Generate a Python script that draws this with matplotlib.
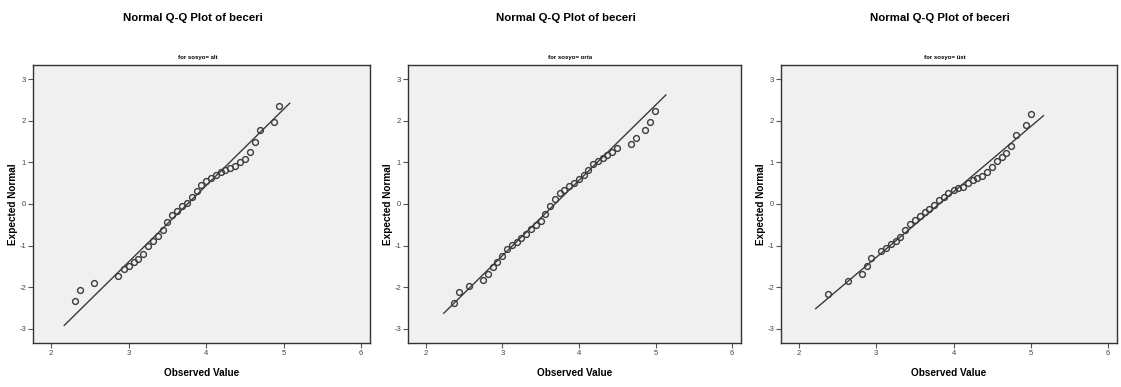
import matplotlib
matplotlib.use("Agg")
import matplotlib.pyplot as plt
from matplotlib import font_manager

# ---- data ----
main_title = "Normal Q-Q Plot of beceri"
groups = ["alt", "orta", "üst"]

obs_alt = [2.31, 2.375, 2.56, 2.87, 2.94, 3.00, 3.065, 3.125, 3.19, 3.25, 3.315, 3.38,
           3.445, 3.50, 3.565, 3.63, 3.69, 3.755, 3.82, 3.88, 3.94, 4.00, 4.065, 4.13,
           4.19, 4.25, 4.315, 4.38, 4.44, 4.505, 4.565, 4.63, 4.69, 4.88, 4.94]
exp_alt = [-2.34, -2.06, -1.90, -1.73, -1.57, -1.50, -1.40, -1.32, -1.20, -1.01, -0.89,
           -0.78, -0.62, -0.43, -0.27, -0.16, -0.05, 0.03, 0.16, 0.32, 0.45, 0.55, 0.62,
           0.69, 0.78, 0.82, 0.86, 0.92, 1.00, 1.09, 1.24, 1.50, 1.78, 1.98, 2.35]

obs_orta = [2.37, 2.435, 2.56, 2.75, 2.81, 2.875, 2.935, 3.00, 3.06, 3.12, 3.185, 3.245,
            3.31, 3.37, 3.435, 3.50, 3.56, 3.625, 3.685, 3.75, 3.81, 3.875, 3.935, 4.00,
            4.06, 4.12, 4.18, 4.245, 4.31, 4.37, 4.435, 4.50, 4.68, 4.745, 4.865, 4.93, 4.99]
exp_orta = [-2.38, -2.12, -1.96, -1.83, -1.69, -1.52, -1.40, -1.26, -1.09, -0.98, -0.91,
            -0.82, -0.71, -0.59, -0.50, -0.41, -0.23, -0.04, 0.11, 0.26, 0.34, 0.43, 0.51,
            0.61, 0.69, 0.82, 0.96, 1.04, 1.10, 1.18, 1.26, 1.35, 1.45, 1.58, 1.78, 1.96, 2.24]

obs_ust = [2.38, 2.63, 2.81, 2.875, 2.935, 3.06, 3.12, 3.185, 3.25, 3.31, 3.375, 3.435,
           3.50, 3.56, 3.625, 3.685, 3.75, 3.81, 3.875, 3.935, 4.00, 4.06, 4.125, 4.185,
           4.25, 4.31, 4.375, 4.435, 4.50, 4.56, 4.625, 4.685, 4.75, 4.81, 4.935, 5.00]
exp_ust = [-2.16, -1.86, -1.68, -1.50, -1.30, -1.13, -1.05, -0.95, -0.90, -0.79, -0.63,
           -0.49, -0.39, -0.29, -0.20, -0.13, -0.03, 0.09, 0.18, 0.27, 0.34, 0.38, 0.42,
           0.50, 0.58, 0.62, 0.68, 0.77, 0.90, 1.03, 1.12, 1.22, 1.40, 1.65, 1.89, 2.17]

# reference line (mean, sd) and its x-extent per group
line_mean = [3.76, 3.686, 3.815]
line_sd = [0.545, 0.553, 0.636]
line_x0 = [2.17, 2.234, 2.216]
line_x1 = [5.08, 5.134, 5.164]

observed = [obs_alt, obs_orta, obs_ust]
expected = [exp_alt, exp_orta, exp_ust]

x_ticks = [2, 3, 4, 5, 6]
y_ticks = [-3, -2, -1, 0, 1, 2, 3]

# ---- fonts ----
installed = {f.name for f in font_manager.fontManager.ttflist}
if "Liberation Sans Narrow" in installed:
    narrow = ["Liberation Sans Narrow", "DejaVu Sans"]
    t_size, xl_size, sub_size = 9.5, 8.5, 5.2
else:
    narrow = ["Liberation Sans", "DejaVu Sans"]
    t_size, xl_size, sub_size = 8.2, 7.2, 4.3
arial = ["Liberation Sans", "DejaVu Sans"]

# ---- figure ----
W, H = 1121, 387
fig = plt.figure(figsize=(W / 100, H / 100), dpi=100)
fig.patch.set_facecolor("white")

panel_px = [(33, 370), (408, 741), (781, 1117)]
top_px, bot_px = 65, 343

for i in range(3):
    l, r = panel_px[i]
    wpx = r - l
    hpx = bot_px - top_px
    ax = fig.add_axes([l / W, 1 - bot_px / H, wpx / W, hpx / H])
    ax.set_facecolor("#f0f0f0")
    ax.set_xlim(1.767, 6.116)
    ax.set_ylim(-3.34, 3.34)
    m, s = line_mean[i], line_sd[i]
    lx = [line_x0[i], line_x1[i]]
    ly = [(v - m) / s for v in lx]
    ax.plot(lx, ly, color="#3a3a3a", lw=1.0, zorder=2)
    ax.plot(observed[i], expected[i], linestyle="none", marker="o", ms=4.2,
            mfc="none", mec="#3c3c3c", mew=1.0, zorder=3)
    ax.set_xticks(x_ticks)
    ax.set_yticks(y_ticks)
    ax.set_xticklabels([str(t) for t in x_ticks], fontsize=5.5, color="#444444",
                       family=arial)
    ax.set_yticklabels([str(t) for t in y_ticks], fontsize=5.5, color="#444444",
                       family=arial)
    ax.tick_params(direction="out", length=3.5, width=0.8, color="#555555", pad=1.5)
    for sp in ax.spines.values():
        sp.set_color("#333333")
        sp.set_linewidth(1.0)
    ax.set_xlabel("Observed Value", fontsize=xl_size, fontweight="bold", family=narrow)
    ax.xaxis.set_label_coords(0.5, -(373 - bot_px) / hpx)
    ax.xaxis.label.set_va("center")
    ax.set_ylabel("Expected Normal", fontsize=7.2, fontweight="bold", family=arial)
    ax.yaxis.set_label_coords(-20 / wpx, 0.5)
    ax.yaxis.label.set_va("center")
    ax.text(0.5 - 4 / wpx, 1 + (top_px - 57) / hpx, "for sosyo= " + groups[i],
            transform=ax.transAxes, ha="center", va="center",
            fontsize=sub_size, fontweight="bold", family=narrow)
    cx = ((l + r) / 2 - 9) / W
    fig.text(cx, 1 - 18 / H, main_title, ha="center", va="center",
             fontsize=t_size, fontweight="bold", family=narrow)

fig.savefig("out.png", dpi=100, facecolor="white")
